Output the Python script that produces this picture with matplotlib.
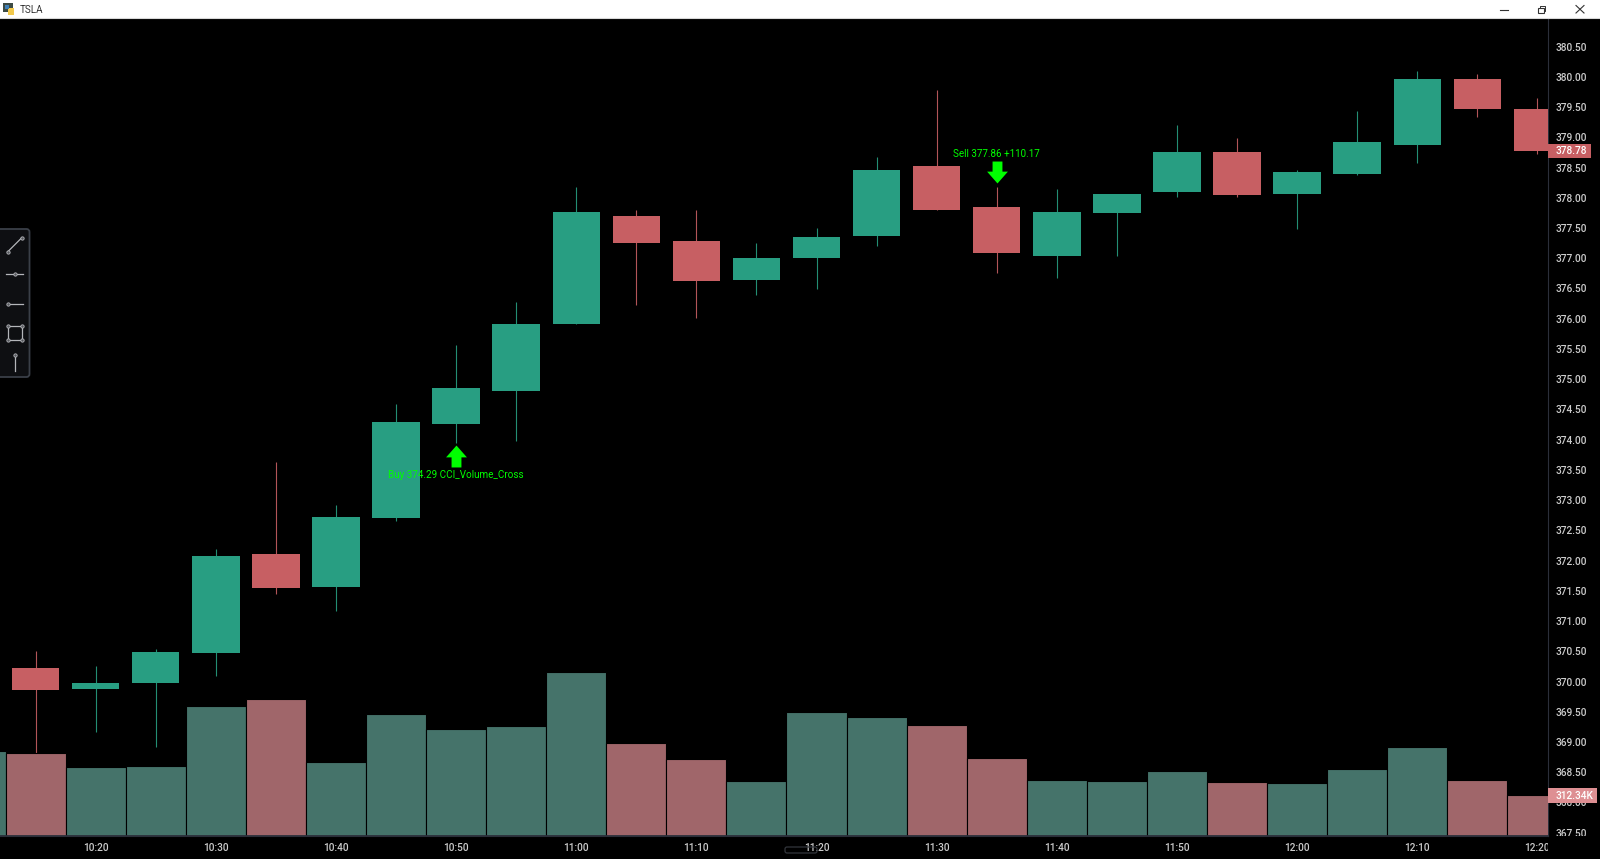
import matplotlib
matplotlib.use("Agg")
import matplotlib.pyplot as plt
import numpy as np
from matplotlib.patches import FancyBboxPatch, Rectangle
from matplotlib.path import Path
from matplotlib.transforms import Bbox

plt.rcParams["font.family"] = ["Roboto", "DejaVu Sans"]

### candle values, 5 minute bars from 10:15
opens = [370.22, 369.88, 369.97, 370.47, 372.11, 371.57, 372.70, 374.26, 374.81, 375.91,
         377.70, 377.28, 376.64, 377.01, 377.36, 378.53, 377.85, 377.04, 377.75, 378.09,
         378.75, 378.06, 378.40, 378.87, 379.97, 379.46]
highs = [370.51, 370.25, 370.54, 372.20, 373.63, 372.92, 374.59, 375.57, 376.27, 378.18,
         377.80, 377.79, 377.25, 377.50, 378.68, 379.78, 378.18, 378.14, 378.07, 379.21,
         378.99, 378.46, 379.44, 380.10, 380.05, 379.65]
lows = [368.77, 369.16, 368.92, 370.10, 371.44, 371.17, 372.65, 373.95, 373.97, 375.91,
        376.22, 376.01, 376.39, 376.49, 377.20, 377.80, 376.76, 376.67, 377.04, 378.01,
        378.02, 377.48, 378.38, 378.58, 379.34, 378.72]
closes = [369.86, 369.97, 370.49, 372.08, 371.54, 372.72, 374.29, 374.86, 375.91, 377.77,
          377.26, 376.62, 377.01, 377.35, 378.46, 377.80, 377.09, 377.77, 378.07, 378.75,
          378.04, 378.43, 378.92, 379.97, 379.46, 378.78]

### volume in thousands, first one is the bar cut off at the left edge
volumes = [645, 629, 528, 536, 987, 1041, 567, 932, 816, 839, 1251, 707, 583, 420, 948,
           909, 847, 591, 427, 420, 497, 412, 404, 513, 676, 427, 312.34]
volume_up = [True, False, True, True, True, False, True, True, True, True, True, False,
             False, True, True, True, False, False, True, True, True, False, True, True,
             True, False, False]

time_labels = ["10:20", "10:30", "10:40", "10:50", "11:00", "11:10", "11:20", "11:30",
               "11:40", "11:50", "12:00", "12:10", "12:20"]
price_ticks = [367.5 + 0.5 * i for i in range(27)]

buy_index, buy_price, buy_text = 7, 373.73, "Buy 374.29 CCI_Volume_Cross"
sell_index, sell_price, sell_text = 16, 378.43, "Sell 377.86 +110.17"
last_price = 378.78
last_volume = 312.34

GREEN = "#289e82"
RED = "#c75f63"
VOL_GREEN = "#45736a"
VOL_RED = "#a0666a"
AXIS = "#2b2f3a"
LABEL = "#cccccc"
SIGNAL = "#00ff00"

W, H = 1600, 859
AX_R, AX_T, AX_B = 1548, 19, 836

fig = plt.figure(figsize=(W / 100, H / 100), dpi=100, facecolor="black")
rect = [0, 1 - AX_B / H, AX_R / W, (AX_B - AX_T) / H]

ax = fig.add_axes(rect, facecolor="black")
ax.set_xlim(-0.592, 25.176)
ax.set_ylim(367.446, 380.956)

n = len(opens)
for i in range(n):
    color = GREEN if closes[i] >= opens[i] else RED
    ax.vlines(i, lows[i], highs[i], color=color, linewidth=0.8, alpha=0.9, zorder=2)
    ax.bar(i, abs(closes[i] - opens[i]), bottom=min(opens[i], closes[i]), width=0.79,
           color=color, linewidth=0, zorder=3)

# buy / sell arrows
up_arrow = Path([(0, 1), (0.95, -0.08), (0.45, -0.08), (0.45, -1), (-0.45, -1),
                 (-0.45, -0.08), (-0.95, -0.08), (0, 1)], closed=True)
down_arrow = Path([(0, -1), (0.95, 0.08), (0.45, 0.08), (0.45, 1), (-0.45, 1),
                   (-0.45, 0.08), (-0.95, 0.08), (0, -1)], closed=True)
ax.plot([buy_index], [buy_price], marker=up_arrow, markersize=15.8, color=SIGNAL,
        markeredgewidth=0, zorder=6)
ax.plot([sell_index], [sell_price], marker=down_arrow, markersize=15.8, color=SIGNAL,
        markeredgewidth=0, zorder=6)
ax.text(buy_index, buy_price - 0.31, buy_text, color=SIGNAL, fontsize=7.1, ha="center",
        va="center", zorder=6)
ax.text(sell_index, sell_price + 0.30, sell_text, color=SIGNAL, fontsize=7.1, ha="center",
        va="center", zorder=6)

for s in ["top", "left"]:
    ax.spines[s].set_visible(False)
ax.spines["right"].set_color(AXIS)
ax.spines["bottom"].set_color(AXIS)

ax.yaxis.tick_right()
ax.set_yticks(price_ticks)
ax.set_yticklabels(["%.2f" % p for p in price_ticks])
ax.tick_params(axis="y", length=0, pad=5.3, labelsize=7.3, labelcolor=LABEL)
ax.set_xticks(np.arange(1, n, 2))
ax.set_xticklabels(time_labels)
ax.tick_params(axis="x", length=0, pad=5.0, labelsize=7.3, labelcolor=LABEL)

# labels stop at the plot edges like the original
x_clip = Bbox([[0, 0], [AX_R, H]])
y_clip = Bbox([[AX_R, H - AX_B], [W, H]])
for label in ax.get_xticklabels():
    label.set_fontweight("medium")
    label.set_clip_box(x_clip)
    label.set_clip_on(True)
for label in ax.get_yticklabels():
    label.set_fontweight("medium")
    label.set_clip_box(y_clip)
    label.set_clip_on(True)

# volume sits on top of the candles
vol = fig.add_axes(rect, facecolor="none", sharex=ax)
vol.set_ylim(0, 6224)
vol.axis("off")
vol_x = np.arange(-1, n)
vol.bar(vol_x, volumes, width=1.0, color=[VOL_GREEN if u else VOL_RED for u in volume_up],
        edgecolor="black", linewidth=0.8, zorder=2)
vol.axhline(0, color=AXIS, linewidth=2, zorder=3)

# last price and last volume flags
pix = fig.add_axes([0, 0, 1, 1], facecolor="none")
pix.set_xlim(0, W)
pix.set_ylim(H, 0)
pix.axis("off")


def flag(y_pos, right, height, color, text):
    pix.add_patch(Rectangle((AX_R, y_pos - height / 2), right - AX_R, height, facecolor=color,
                            edgecolor="none", zorder=5))
    pix.text(AX_R + 7.5, y_pos, text, color="white", fontsize=7.3, fontweight="medium",
             va="center", ha="left", zorder=6)


price_to_y = lambda p: ax.transData.transform((0, p))[1]
flag(H - price_to_y(last_price), 1591, 14, RED, "%.2f" % last_price)
vol_y = H - vol.transData.transform((0, last_volume))[1]
flag(vol_y + 0.5, 1597, 15, "#de8f93", "%.2fK" % last_volume)

# window title bar
pix.add_patch(Rectangle((0, 0), W, 18, facecolor="white", edgecolor="none", zorder=7))
pix.plot([0, W], [18.3, 18.3], color="#d8d8d8", linewidth=0.8, zorder=8)
pix.text(20, 10, "TSLA", color="#333333", fontsize=7.1, va="center", ha="left", zorder=8)
pix.add_patch(Rectangle((3, 3), 10, 9, facecolor="#3c4a44", edgecolor="none", zorder=8))
pix.add_patch(Rectangle((8, 8), 6, 7, facecolor="#f2c94c", edgecolor="none", zorder=9))
pix.add_patch(Rectangle((5, 5), 4, 4, facecolor="#3f7fb5", edgecolor="none", zorder=9))
pix.plot([1500, 1508], [9.5, 9.5], color="#333333", linewidth=0.8, zorder=8)
pix.add_patch(Rectangle((1537.5, 7.5), 6, 5.5, facecolor="none", edgecolor="#333333",
                        linewidth=0.8, zorder=8))
pix.plot([1539.5, 1539.5, 1545, 1545, 1543.5], [7.5, 5.5, 5.5, 11, 11], color="#333333",
         linewidth=0.7, zorder=8)
pix.plot([1576, 1584], [5.5, 13], color="#333333", linewidth=0.8, zorder=8)
pix.plot([1576, 1584], [13, 5.5], color="#333333", linewidth=0.8, zorder=8)

# drawing tool box on the left
pix.add_patch(FancyBboxPatch((-8, 229), 37.5, 148, boxstyle="round,pad=0,rounding_size=3",
                             facecolor="#0e0f12", edgecolor="#3a3f48", linewidth=1.3, zorder=7))
ICON = "#b4b6ba"


def icon_line(xs, ys, dots):
    pix.plot(xs, ys, color=ICON, linewidth=0.9, zorder=8)
    dx, dy = zip(*dots)
    pix.plot(dx, dy, linestyle="none", marker="o", markersize=2.4, markerfacecolor="#55575c",
             markeredgecolor=ICON, markeredgewidth=0.6, zorder=9)


icon_line([7.5, 21.5], [252, 238], [(7.5, 252), (21.5, 238)])
icon_line([6, 23], [274, 274], [(14.5, 274)])
icon_line([7.5, 23], [303.5, 303.5], [(7.5, 303.5)])
icon_line([7.5, 21.5, 21.5, 7.5, 7.5], [326, 326, 339.5, 339.5, 326],
          [(7.5, 326), (21.5, 326), (21.5, 339.5), (7.5, 339.5)])
icon_line([14.5, 14.5], [355, 371], [(14.5, 355)])

# small scroll handle under the time axis
pix.add_patch(FancyBboxPatch((785, 847), 32, 6, boxstyle="round,pad=0,rounding_size=2",
                             facecolor="none", edgecolor="#33363c", linewidth=0.9, zorder=4))

fig.savefig("out.png", dpi=100, facecolor="black")
